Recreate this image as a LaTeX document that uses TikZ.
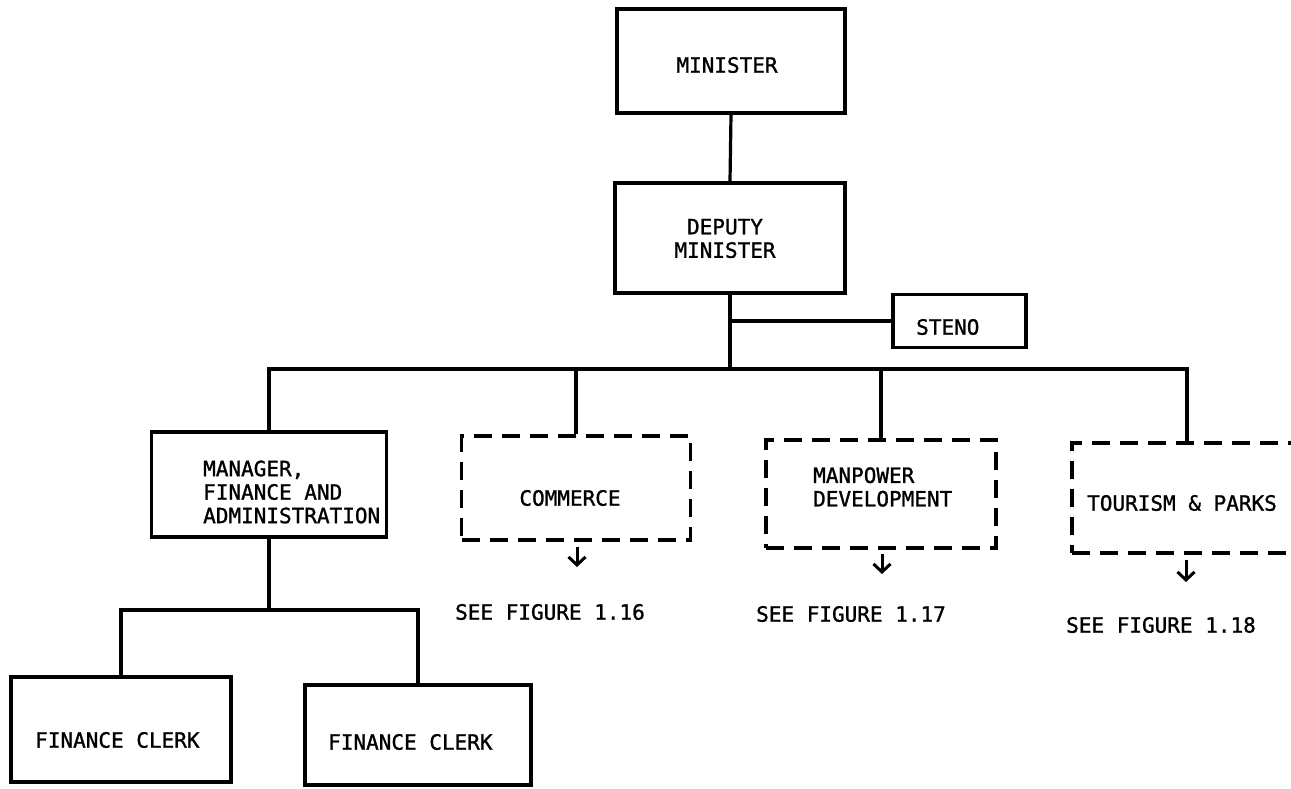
\documentclass[tikz,border=0pt]{standalone}
\usepackage{fontspec}
\setmainfont{DejaVu Sans Mono}[BoldFont=DejaVu Sans Mono, BoldFeatures={FakeBold=1.2}]
\usetikzlibrary{arrows.meta}
\begin{document}
\begin{tikzpicture}[x=1pt,y=-1pt,
  every node/.style={font=\fontsize{21}{23.5}\selectfont\bfseries},
  unitbox/.style={draw, line width=3.6pt, rectangle, inner sep=0pt},
  dashbox/.style={draw, line width=3.4pt, rectangle, inner sep=0pt,
    dash pattern=on 18pt off 10pt},
  lbl/.style={inner sep=0pt},
  link/.style={line width=3.2pt},
  pointer/.style={line width=3pt, -{Straight Barb[length=8pt,width=17pt]}}]
  \useasboundingbox (0,0) rectangle (1291,788);
  \clip (0,0) rectangle (1291,788);

  % solid unit boxes
  \node[unitbox, minimum width=228pt, minimum height=104pt] (minister) at (731,61) {};
  \node[unitbox, minimum width=230pt, minimum height=110pt] (deputy) at (730,238) {};
  \node[unitbox, minimum width=133pt, minimum height=53pt] (steno) at (959.5,321) {};
  \node[unitbox, minimum width=235pt, minimum height=105pt] (mgr) at (269,484.5) {};
  \node[unitbox, minimum width=220pt, minimum height=105pt] (clerkA) at (121,729.5) {};
  \node[unitbox, minimum width=226pt, minimum height=100pt] (clerkB) at (418,735) {};

  % dashed boxes for the divisions shown on other charts
  \node[dashbox, minimum width=229pt, minimum height=104pt] (comm) at (576,488) {};
  \node[dashbox, minimum width=230pt, minimum height=108pt] (manp) at (881,494) {};
  \node[dashbox, minimum width=230pt, minimum height=110pt] (tour) at (1187,498) {};

  % box texts
  \node[lbl] (tMin) at (727,65) {MINISTER};
  \node[lbl, align=center] (tDep) at (725,238.5) {DEPUTY\\MINISTER};
  \node[lbl, anchor=west] (tSte) at (916,327) {STENO};
  \node[lbl, anchor=west, align=left] (tMgr) at (203,492) {MANAGER,\\FINANCE AND\\ADMINISTRATION};
  \node[lbl] (tCom) at (570,498) {COMMERCE};
  \node[lbl, anchor=west, align=left] (tMan) at (813,487) {MANPOWER\\DEVELOPMENT};
  \node[lbl, anchor=west] (tTou) at (1087,503) {TOURISM \& PARKS};
  \node[lbl, anchor=west] (tClA) at (35,740) {FINANCE CLERK};
  \node[lbl, anchor=west] (tClB) at (328,742) {FINANCE CLERK};

  % cross-references
  \node[lbl] (seeA) at (550,612) {SEE FIGURE 1.16};
  \node[lbl] (seeB) at (851,614) {SEE FIGURE 1.17};
  \node[lbl] (seeC) at (1161,625) {SEE FIGURE 1.18};

  % junctions
  \coordinate (bar) at (730,369);
  \coordinate (cbar) at (269,610);
  \coordinate (endA) at (577,567);
  \coordinate (endB) at (882,574);
  \coordinate (endC) at (1186,582);

  % reporting lines
  \draw[link] (minister.south) -- (deputy.north);
  \draw[link] (deputy.south) -- (bar);
  \draw[link] (deputy.south |- steno.west) -- (steno.west);
  \draw[link] (mgr.north) |- (bar) -| (tour.north);
  \draw[link] (comm.north) -- (comm.north |- bar);
  \draw[link] (manp.north) -- (manp.north |- bar);
  \draw[link] (mgr.south) -- (cbar);
  \draw[link] (clerkA.north) |- (cbar) -| (clerkB.north);

  % pointers to the other charts
  \draw[pointer] (comm.south -| endA) ++(0,5) -- (endA);
  \draw[pointer] (manp.south -| endB) ++(0,4) -- (endB);
  \draw[pointer] (tour.south -| endC) ++(0,5) -- (endC);
\end{tikzpicture}
\end{document}
